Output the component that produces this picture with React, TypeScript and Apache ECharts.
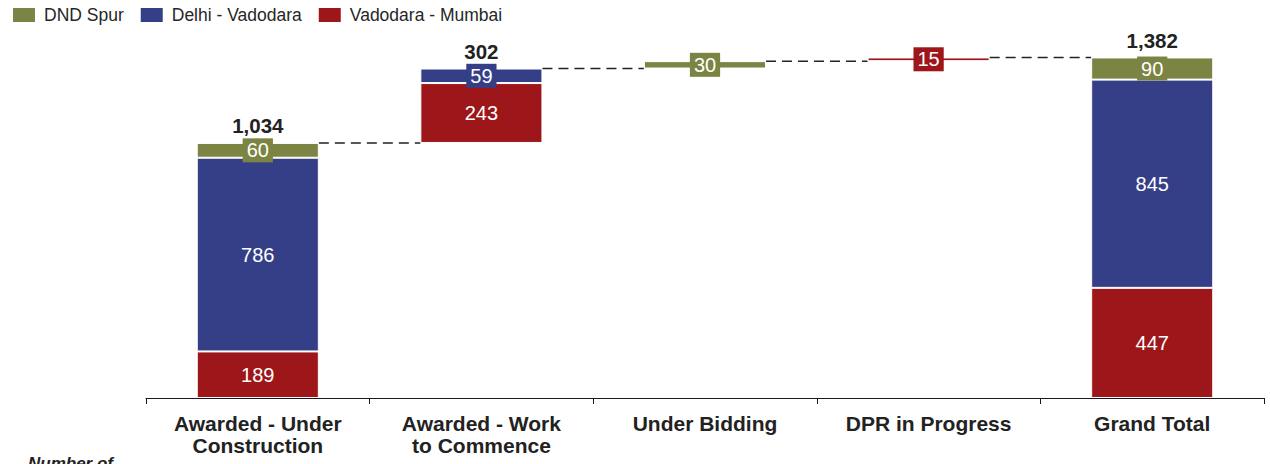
import React, { useEffect, useRef } from "react";
import * as echarts from "echarts";

const categories = [
  "Awarded - Under\nConstruction",
  "Awarded - Work\nto Commence",
  "Under Bidding",
  "DPR in Progress",
  "Grand Total",
];
const vadodaraMumbai: (number | null)[] = [189, 243, null, 15, 447];
const delhiVadodara: (number | null)[] = [786, 59, null, null, 845];
const dndSpur: (number | null)[] = [60, null, 30, null, 90];
const totalLabels: (number | null)[] = [1034, 302, null, null, 1382];

const COLORS = { dnd: "#7b8443", dv: "#353f87", vm: "#9d1619" };
const FONT = "'Liberation Sans', Arial, Helvetica, sans-serif";
const BAR_RATIO = 0.546;

export default function App() {
  const ref = useRef<HTMLDivElement>(null);
  useEffect(() => {
    if (!ref.current) return;
    document.body.style.margin = "0";
    const chart = echarts.init(ref.current, null, { renderer: "svg" });

    const n = categories.length;
    const sums = categories.map(
      (_, i) => (vadodaraMumbai[i] || 0) + (delhiVadodara[i] || 0) + (dndSpur[i] || 0)
    );
    const base: number[] = [];
    let running = 0;
    for (let i = 0; i < n; i++) {
      if (i === n - 1) {
        base.push(0);
      } else {
        base.push(running);
        running += sums[i];
      }
    }
    const tops = base.map((b, i) => b + sums[i]);
    const connectors = tops.slice(0, n - 1).map((t, i) => [i, t]);
    const totalPoints = totalLabels
      .map((t, i) => (t == null ? null : { value: [i, tops[i]], total: t }))
      .filter((d) => d !== null) as any[];

    const toData = (arr: (number | null)[]) => arr.map((v) => (v == null ? "-" : v));

    const segLabel = (color: string) => ({
      show: true,
      position: "inside",
      color: "#ffffff",
      fontSize: 20,
      fontFamily: FONT,
      backgroundColor: color,
      padding: [2, 4, 1, 4],
      lineHeight: 21,
    });

    const segment = (name: string, arr: (number | null)[], color: string) => ({
      name,
      type: "bar",
      stack: "a",
      barWidth: BAR_RATIO * 100 + "%",
      data: toData(arr),
      itemStyle: { color, borderColor: "#ffffff", borderWidth: 1 },
      label: segLabel(color),
      emphasis: { disabled: true },
      z: 3,
    });

    chart.setOption({
      animation: false,
      textStyle: { fontFamily: FONT },
      legend: {
        left: 6,
        top: 1,
        icon: "rect",
        itemWidth: 24,
        itemHeight: 16,
        itemGap: 15,
        data: ["DND Spur", "Delhi - Vadodara", "Vadodara - Mumbai"],
        textStyle: { fontSize: 17.5, color: "#262626", fontFamily: FONT, padding: [0, 0, 0, 3] },
        selectedMode: false,
      },
      grid: { left: 146, right: 6, top: 53, bottom: 66, containLabel: false },
      xAxis: {
        type: "category",
        data: categories,
        axisLine: { show: true, lineStyle: { color: "#1a1a1a", width: 1 } },
        axisTick: { show: true, length: 6, lineStyle: { color: "#1a1a1a" } },
        axisLabel: {
          interval: 0,
          margin: 14,
          fontSize: 21,
          lineHeight: 22,
          fontWeight: "bold",
          color: "#222222",
          fontFamily: FONT,
        },
      },
      yAxis: {
        type: "value",
        min: 0,
        max: 1400,
        show: false,
        splitLine: { show: false },
      },
      graphic: [
        {
          type: "text",
          left: 28,
          top: 455,
          style: {
            text: "Number of",
            font: `italic bold 17px ${FONT}`,
            fill: "#222222",
          },
        },
      ],
      series: [
        {
          name: "base",
          type: "bar",
          stack: "a",
          barWidth: BAR_RATIO * 100 + "%",
          data: base,
          itemStyle: { color: "transparent" },
          silent: true,
          emphasis: { disabled: true },
          label: { show: false },
        },
        segment("Vadodara - Mumbai", vadodaraMumbai, COLORS.vm),
        segment("Delhi - Vadodara", delhiVadodara, COLORS.dv),
        segment("DND Spur", dndSpur, COLORS.dnd),
        {
          name: "connectors",
          type: "custom",
          silent: true,
          z: 1,
          data: connectors,
          encode: { x: 0, y: 1 },
          renderItem: (params: any, api: any) => {
            const i = api.value(0);
            const v = api.value(1);
            const p1 = api.coord([i, v]);
            const p2 = api.coord([i + 1, v]);
            const half = (api.size([1, 0])[0] * BAR_RATIO) / 2;
            return {
              type: "line",
              shape: { x1: p1[0] + half, y1: p1[1], x2: p2[0] - half, y2: p2[1] },
              style: { stroke: "#222222", lineWidth: 1.5, lineDash: [10, 6] },
            };
          },
        },
        {
          name: "totals",
          type: "scatter",
          symbolSize: 1,
          itemStyle: { color: "rgba(0,0,0,0)", opacity: 1 },
          silent: true,
          z: 5,
          data: totalPoints,
          label: {
            show: true,
            position: "top",
            distance: 6,
            fontSize: 20.5,
            fontWeight: "bold",
            color: "#222222",
            fontFamily: FONT,
            formatter: (p: any) => Number(p.data.total).toLocaleString("en-US"),
          },
        },
      ],
    });
    return () => chart.dispose();
  }, []);
  return <div ref={ref} style={{ width: 1270, height: 464 }} />;
}
